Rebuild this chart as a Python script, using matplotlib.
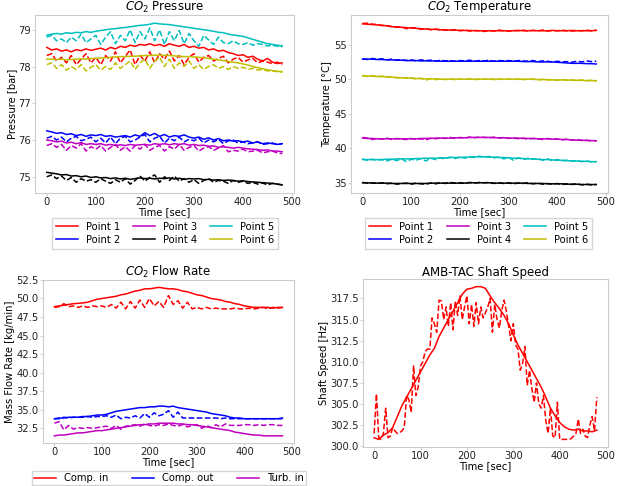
import numpy as np
import matplotlib
matplotlib.use('Agg')
import matplotlib.pyplot as plt

# time axis [sec]
t = np.arange(0, 481, 10)
t_fine = np.arange(0, 481, 5)

point_labels = ['Point 1', 'Point 2', 'Point 3', 'Point 4', 'Point 5', 'Point 6']
point_colors = ['r', 'b', 'm', 'k', 'c', 'y']

# CO2 pressure [bar], model (solid) and measured (dashed)
p1_model = [78.52, 78.45, 78.48, 78.42, 78.45, 78.40, 78.46, 78.43, 78.48, 78.44,
            78.47, 78.50, 78.45, 78.52, 78.48, 78.55, 78.52, 78.58, 78.55, 78.60,
            78.58, 78.62, 78.57, 78.60, 78.55, 78.62, 78.58, 78.55, 78.60, 78.52,
            78.55, 78.50, 78.52, 78.45, 78.48, 78.42, 78.44, 78.38, 78.35, 78.30,
            78.32, 78.25, 78.28, 78.20, 78.15, 78.22, 78.12, 78.08, 78.10]
p1_meas = [78.30, 78.35, 78.15, 78.25, 78.10, 78.30, 78.05, 78.20, 78.35, 78.10,
           78.25, 78.05, 78.30, 78.15, 78.40, 78.10, 78.28, 78.45, 78.05, 78.30,
           78.15, 78.40, 78.10, 78.35, 78.20, 78.42, 78.15, 78.30, 78.05, 78.25,
           78.35, 78.12, 78.25, 78.30, 78.15, 78.22, 78.28, 78.10, 78.20, 78.25,
           78.12, 78.18, 78.22, 78.10, 78.15, 78.12, 78.08, 78.12, 78.05]
p2_model = [76.25, 76.22, 76.18, 76.20, 76.15, 76.17, 76.12, 76.15, 76.10, 76.14,
            76.12, 76.15, 76.10, 76.12, 76.08, 76.10, 76.12, 76.08, 76.14, 76.10,
            76.20, 76.12, 76.18, 76.10, 76.15, 76.08, 76.12, 76.10, 76.14, 76.08,
            76.05, 76.08, 76.02, 76.06, 76.00, 76.04, 75.98, 76.00, 75.97, 75.98,
            75.95, 75.97, 75.92, 75.95, 75.90, 75.92, 75.90, 75.88, 75.90]
p2_meas = [76.05, 76.10, 76.00, 76.08, 75.95, 76.05, 76.10, 75.98, 76.02, 76.08,
           75.95, 76.05, 75.92, 76.08, 75.90, 76.05, 76.10, 75.95, 76.00, 76.08,
           76.15, 75.95, 76.05, 76.10, 75.92, 76.05, 75.98, 76.08, 75.95, 76.02,
           75.98, 76.05, 75.92, 76.00, 75.95, 76.02, 75.90, 75.98, 76.00, 75.92,
           75.95, 75.90, 75.92, 75.95, 75.88, 75.90, 75.92, 75.88, 75.90]
p3_model = [76.00, 75.98, 75.95, 75.97, 75.92, 75.94, 75.90, 75.93, 75.88, 75.90,
            75.88, 75.90, 75.86, 75.88, 75.85, 75.87, 75.85, 75.88, 75.86, 75.87,
            75.88, 75.86, 75.90, 75.88, 75.90, 75.87, 75.90, 75.88, 75.90, 75.86,
            75.88, 75.85, 75.86, 75.83, 75.84, 75.80, 75.82, 75.80, 75.78, 75.80,
            75.78, 75.76, 75.75, 75.74, 75.72, 75.73, 75.70, 75.70, 75.68]
p3_meas = [75.85, 75.90, 75.80, 75.88, 75.72, 75.85, 75.78, 75.90, 75.70, 75.82,
           75.75, 75.85, 75.70, 75.80, 75.88, 75.72, 75.82, 75.70, 75.85, 75.75,
           75.88, 75.72, 75.80, 75.85, 75.70, 75.82, 75.75, 75.88, 75.72, 75.80,
           75.85, 75.70, 75.78, 75.82, 75.72, 75.78, 75.85, 75.68, 75.72, 75.70,
           75.75, 75.68, 75.70, 75.72, 75.65, 75.68, 75.70, 75.65, 75.63]
p4_model = [75.12, 75.10, 75.08, 75.05, 75.06, 75.02, 75.03, 75.00, 75.02, 74.98,
            75.00, 74.97, 74.98, 74.95, 74.97, 74.94, 74.96, 74.93, 74.95, 74.97,
            74.95, 74.96, 74.94, 74.96, 74.95, 74.97, 74.94, 74.96, 74.93, 74.95,
            74.94, 74.95, 74.92, 74.93, 74.91, 74.92, 74.90, 74.91, 74.90, 74.88,
            74.89, 74.87, 74.86, 74.85, 74.84, 74.83, 74.82, 74.80, 74.78]
p4_meas = [75.00, 75.05, 74.95, 75.02, 74.90, 74.98, 74.85, 74.95, 74.88, 74.92,
           74.85, 74.95, 74.88, 74.82, 74.92, 74.85, 74.95, 74.80, 74.90, 75.02,
           74.88, 74.98, 75.05, 74.85, 75.00, 74.90, 75.02, 74.88, 74.95, 74.85,
           74.92, 74.82, 74.90, 74.95, 74.85, 74.90, 74.88, 74.82, 74.90, 74.85,
           74.88, 74.82, 74.85, 74.80, 74.83, 74.78, 74.82, 74.80, 74.78]
p5_model = [78.85, 78.88, 78.90, 78.88, 78.92, 78.90, 78.93, 78.92, 78.95, 78.93,
            78.96, 78.98, 79.00, 79.02, 79.03, 79.05, 79.06, 79.08, 79.10, 79.12,
            79.13, 79.15, 79.18, 79.16, 79.15, 79.14, 79.12, 79.10, 79.08, 79.06,
            79.04, 79.02, 79.00, 78.98, 78.96, 78.93, 78.92, 78.88, 78.86, 78.84,
            78.82, 78.78, 78.74, 78.70, 78.66, 78.62, 78.60, 78.58, 78.56]
p5_meas = [78.80, 78.85, 78.70, 78.75, 78.65, 78.80, 78.70, 78.88, 78.65, 78.75,
           78.85, 78.60, 78.80, 78.95, 78.62, 78.85, 78.70, 79.00, 78.65, 78.95,
           78.75, 79.05, 78.70, 79.00, 78.60, 78.95, 78.70, 78.98, 78.62, 78.90,
           78.70, 78.55, 78.85, 78.72, 78.60, 78.80, 78.65, 78.62, 78.70, 78.62,
           78.60, 78.65, 78.58, 78.62, 78.60, 78.56, 78.58, 78.55, 78.54]
p6_model = [78.20, 78.20, 78.19, 78.20, 78.18, 78.19, 78.20, 78.21, 78.20, 78.22,
            78.22, 78.23, 78.24, 78.25, 78.26, 78.27, 78.27, 78.28, 78.28, 78.29,
            78.30, 78.30, 78.31, 78.31, 78.30, 78.30, 78.29, 78.28, 78.27, 78.27,
            78.26, 78.25, 78.24, 78.22, 78.20, 78.18, 78.16, 78.14, 78.12, 78.10,
            78.07, 78.04, 78.00, 77.97, 77.94, 77.91, 77.89, 77.87, 77.86]
p6_meas = [78.05, 78.10, 77.95, 78.05, 77.90, 78.00, 77.92, 78.05, 77.88, 77.98,
           78.05, 77.90, 78.00, 77.92, 78.10, 77.95, 78.05, 78.15, 77.92, 78.10,
           78.20, 77.95, 78.15, 78.25, 78.00, 78.20, 77.95, 78.10, 78.00, 78.15,
           77.95, 78.05, 77.92, 78.00, 78.05, 77.95, 78.00, 77.92, 78.00, 77.95,
           77.98, 77.92, 77.95, 77.90, 77.92, 77.88, 77.88, 77.86, 77.85]

# CO2 temperature [degC]
T1_model = [58.0, 57.95, 57.9, 57.85, 57.8, 57.7, 57.6, 57.55, 57.5, 57.45,
            57.4, 57.35, 57.3, 57.25, 57.2, 57.2, 57.15, 57.1, 57.1, 57.1,
            57.05, 57.05, 57.05, 57.0, 57.0, 57.0, 57.0, 57.0, 57.0, 57.0,
            57.0, 57.0, 57.05, 57.0, 57.0, 57.05, 57.0, 57.0, 57.0, 57.05,
            57.0, 57.0, 57.0, 57.05, 57.0, 57.0, 57.0, 57.0, 57.05]
T1_meas = [58.05, 58.10, 57.95, 57.90, 57.75, 57.75, 57.60, 57.50, 57.55, 57.30,
           57.45, 57.40, 57.20, 57.30, 57.15, 57.25, 57.10, 57.15, 57.05, 57.15,
           57.00, 57.10, 56.95, 57.05, 57.00, 56.90, 57.05, 56.95, 57.10, 57.00,
           56.95, 57.05, 57.00, 57.10, 56.95, 57.05, 57.00, 57.10, 56.95, 57.05,
           57.00, 57.10, 57.00, 56.95, 57.05, 57.00, 57.10, 57.00, 57.10]
T2_model = [52.9, 52.9, 52.9, 52.85, 52.85, 52.8, 52.8, 52.75, 52.75, 52.7,
            52.7, 52.7, 52.65, 52.65, 52.65, 52.65, 52.6, 52.6, 52.6, 52.6,
            52.6, 52.6, 52.6, 52.6, 52.6, 52.6, 52.6, 52.6, 52.6, 52.6,
            52.6, 52.6, 52.6, 52.55, 52.55, 52.55, 52.5, 52.5, 52.5, 52.5,
            52.45, 52.4, 52.35, 52.3, 52.3, 52.3, 52.25, 52.25, 52.2]
T2_meas = [52.95, 52.85, 53.0, 52.9, 52.95, 52.8, 52.9, 52.75, 52.85, 52.7,
           52.8, 52.65, 52.8, 52.7, 52.75, 52.6, 52.75, 52.65, 52.7, 52.6,
           52.7, 52.65, 52.75, 52.6, 52.7, 52.65, 52.75, 52.6, 52.7, 52.65,
           52.7, 52.6, 52.7, 52.65, 52.6, 52.7, 52.55, 52.65, 52.6, 52.5,
           52.6, 52.5, 52.55, 52.45, 52.6, 52.5, 52.65, 52.55, 52.6]
T3_model = [41.5, 41.45, 41.45, 41.4, 41.4, 41.4, 41.4, 41.4, 41.4, 41.4,
            41.4, 41.4, 41.45, 41.45, 41.45, 41.5, 41.5, 41.5, 41.5, 41.55,
            41.55, 41.55, 41.6, 41.6, 41.6, 41.6, 41.6, 41.55, 41.55, 41.55,
            41.5, 41.5, 41.5, 41.45, 41.45, 41.45, 41.4, 41.4, 41.4, 41.35,
            41.35, 41.3, 41.3, 41.25, 41.2, 41.2, 41.15, 41.15, 41.1]
T3_meas = [41.6, 41.5, 41.3, 41.45, 41.35, 41.5, 41.3, 41.45, 41.35, 41.3,
           41.45, 41.3, 41.4, 41.25, 41.5, 41.4, 41.55, 41.45, 41.6, 41.45,
           41.6, 41.5, 41.65, 41.55, 41.65, 41.6, 41.55, 41.65, 41.5, 41.6,
           41.45, 41.55, 41.4, 41.5, 41.35, 41.45, 41.4, 41.3, 41.45, 41.3,
           41.4, 41.25, 41.35, 41.2, 41.3, 41.15, 41.2, 41.1, 41.15]
T4_model = [35.05, 35.05, 35.0, 35.0, 35.0, 35.0, 34.95, 34.95, 34.95, 34.95,
            34.95, 34.95, 34.95, 34.95, 35.0, 35.0, 35.0, 35.0, 35.0, 35.0,
            35.0, 35.0, 35.05, 35.05, 35.05, 35.05, 35.05, 35.0, 35.0, 35.0,
            35.0, 35.0, 35.0, 35.0, 34.95, 34.95, 34.95, 34.95, 34.9, 34.9,
            34.9, 34.9, 34.85, 34.85, 34.85, 34.8, 34.8, 34.8, 34.8]
T4_meas = [35.1, 35.0, 35.05, 34.95, 35.05, 34.9, 35.0, 34.85, 34.95, 35.0,
           34.85, 35.0, 34.9, 34.85, 35.0, 34.9, 35.05, 34.95, 35.1, 35.0,
           35.05, 34.95, 35.1, 35.0, 35.1, 35.05, 35.1, 34.95, 35.05, 34.95,
           35.05, 34.9, 35.0, 34.95, 35.05, 34.9, 35.0, 34.85, 34.95, 34.85,
           34.95, 34.8, 34.9, 34.8, 34.9, 34.75, 34.85, 34.75, 34.8]
T5_model = [38.4, 38.4, 38.4, 38.4, 38.4, 38.45, 38.45, 38.5, 38.5, 38.5,
            38.5, 38.55, 38.55, 38.6, 38.6, 38.6, 38.65, 38.65, 38.7, 38.7,
            38.7, 38.75, 38.75, 38.8, 38.8, 38.8, 38.75, 38.75, 38.7, 38.7,
            38.65, 38.6, 38.6, 38.55, 38.5, 38.5, 38.45, 38.4, 38.4, 38.35,
            38.3, 38.3, 38.25, 38.2, 38.2, 38.15, 38.15, 38.1, 38.1]
T5_meas = [38.5, 38.3, 38.45, 38.3, 38.4, 38.2, 38.45, 38.25, 38.5, 38.1,
           38.45, 38.3, 38.55, 38.2, 38.6, 38.4, 38.65, 38.5, 38.75, 38.55,
           38.8, 38.6, 38.85, 38.7, 38.9, 38.75, 38.85, 38.65, 38.8, 38.5,
           38.7, 38.3, 38.65, 38.4, 38.6, 38.45, 38.55, 38.3, 38.5, 38.25,
           38.4, 38.2, 38.3, 38.15, 38.25, 38.1, 38.2, 38.05, 38.1]
T6_model = [50.5, 50.45, 50.45, 50.4, 50.4, 50.35, 50.3, 50.25, 50.2, 50.2,
            50.15, 50.1, 50.1, 50.05, 50.05, 50.05, 50.0, 50.0, 50.0, 50.0,
            50.0, 50.0, 50.0, 50.0, 50.0, 50.0, 50.0, 50.0, 50.0, 50.0,
            50.0, 50.0, 50.0, 50.0, 50.0, 50.0, 49.95, 49.95, 49.95, 49.9,
            49.9, 49.9, 49.9, 49.85, 49.85, 49.85, 49.8, 49.8, 49.8]
T6_meas = [50.55, 50.4, 50.5, 50.35, 50.45, 50.3, 50.35, 50.2, 50.25, 50.15,
           50.2, 50.05, 50.15, 49.85, 50.1, 49.95, 50.05, 49.95, 50.05, 49.95,
           50.05, 49.95, 50.1, 49.95, 50.05, 50.0, 50.1, 49.95, 50.05, 49.95,
           50.05, 49.95, 50.05, 49.95, 50.0, 50.05, 49.9, 50.0, 49.9, 49.95,
           49.85, 49.95, 49.85, 49.9, 49.8, 49.9, 49.8, 49.85, 49.75]

# CO2 mass flow rate [kg/min]
flow_labels = ['Comp. in', 'Comp. out', 'Turb. in']
flow_colors = ['r', 'b', 'm']
comp_in_model = [48.9, 49.0, 49.1, 49.2, 49.3, 49.35, 49.4, 49.5, 49.7, 49.9,
                 50.0, 50.1, 50.2, 50.3, 50.5, 50.6, 50.8, 51.0, 51.1, 51.3,
                 51.3, 51.4, 51.5, 51.4, 51.3, 51.3, 51.2, 51.0, 50.9, 50.7,
                 50.5, 50.4, 50.2, 50.0, 49.9, 49.8, 49.6, 49.5, 49.3, 49.2,
                 49.0, 48.9, 48.8, 48.8, 48.8, 48.8, 48.7, 48.8, 48.8]
comp_in_meas = [48.8, 48.9, 49.3, 48.9, 49.0, 48.8, 49.0, 48.8, 49.0, 48.9,
                49.0, 48.8, 49.2, 48.7, 49.5, 48.6, 49.6, 48.7, 49.8, 48.8,
                50.0, 49.0, 49.6, 48.8, 50.4, 49.2, 49.7, 48.7, 49.5, 48.6,
                48.8, 48.6, 48.8, 48.6, 48.7, 48.6, 48.6, 48.6, 48.7, 48.6,
                48.6, 48.7, 48.6, 48.7, 48.8, 48.6, 48.8, 48.7, 48.8]
comp_out_model = [33.8, 33.9, 33.9, 34.0, 34.0, 34.0, 34.1, 34.1, 34.2, 34.3,
                  34.3, 34.4, 34.6, 34.8, 34.9, 35.0, 35.1, 35.2, 35.3, 35.3,
                  35.4, 35.4, 35.5, 35.5, 35.4, 35.5, 35.3, 35.2, 35.1, 35.0,
                  34.9, 34.8, 34.7, 34.5, 34.4, 34.3, 34.2, 34.0, 33.9, 33.9,
                  33.8, 33.8, 33.8, 33.8, 33.8, 33.8, 33.8, 33.8, 33.9]
comp_out_meas = [33.8, 33.8, 34.0, 33.9, 34.0, 34.0, 34.0, 34.1, 34.0, 34.1,
                 34.1, 34.2, 34.0, 34.3, 33.8, 34.0, 33.9, 34.2, 33.9, 34.5,
                 34.0, 34.6, 34.2, 34.4, 34.9, 34.0, 34.7, 33.9, 33.9, 33.9,
                 33.9, 33.9, 33.9, 33.9, 33.9, 33.8, 33.9, 33.8, 33.8, 33.8,
                 33.8, 33.8, 33.8, 33.8, 33.8, 33.8, 33.8, 33.8, 33.8]
turb_in_model = [31.5, 31.6, 31.6, 31.7, 31.8, 31.9, 31.9, 32.0, 32.1, 32.2,
                 32.2, 32.3, 32.4, 32.5, 32.6, 32.7, 32.8, 32.9, 33.0, 33.0,
                 33.1, 33.1, 33.2, 33.2, 33.2, 33.2, 33.1, 33.1, 33.0, 33.0,
                 32.9, 32.8, 32.7, 32.6, 32.5, 32.4, 32.3, 32.2, 32.0, 31.9,
                 31.8, 31.7, 31.6, 31.6, 31.5, 31.5, 31.5, 31.5, 31.5]
turb_in_meas = [33.2, 33.4, 32.3, 32.9, 32.4, 32.6, 32.5, 32.6, 32.5, 32.6,
                32.7, 32.8, 32.5, 32.9, 32.4, 32.8, 32.9, 33.0, 32.8, 33.1,
                32.9, 32.8, 33.0, 32.9, 33.1, 32.9, 32.8, 33.0, 32.7, 32.9,
                33.0, 32.5, 32.9, 32.6, 33.0, 32.7, 33.1, 32.9, 32.9, 32.9,
                33.0, 33.0, 32.9, 33.0, 32.9, 33.0, 33.0, 32.9, 32.9]

# AMB-TAC shaft speed [Hz]
speed_model = [301.0, 300.8, 301.3, 301.6, 302.2, 303.5, 304.8, 305.8, 306.8, 307.8,
               308.8, 309.8, 310.8, 311.6, 313.0, 314.0, 315.0, 316.0, 317.0, 318.0,
               318.6, 318.7, 318.9, 318.9, 318.7, 317.8, 317.0, 316.3, 315.5, 314.5,
               313.2, 312.0, 311.0, 310.0, 309.0, 308.0, 307.0, 305.8, 304.5, 303.6,
               302.8, 302.3, 302.0, 301.9, 302.0, 301.8, 301.8, 301.7, 301.9]
speed_meas = [301.5, 306.2, 301.0, 300.8, 301.5, 304.5, 301.0, 301.2, 302.2, 301.8,
              301.5, 301.6, 301.8, 302.2, 306.0, 305.5, 304.0, 309.5, 306.0, 307.0,
              309.5, 310.0, 311.2, 311.5, 311.5, 315.2, 314.5, 313.5, 317.3, 317.2,
              315.0, 316.5, 314.2, 317.0, 313.8, 317.2, 315.5, 317.8, 315.0, 316.5,
              317.8, 314.5, 316.8, 314.2, 317.0, 314.5, 316.5, 315.2, 315.8, 316.5,
              317.5, 313.5, 316.8, 315.0, 314.0, 316.0, 317.3, 316.0, 314.2, 312.5,
              314.5, 312.0, 311.5, 309.0, 309.8, 311.8, 307.2, 309.0, 306.8, 305.2,
              307.5, 305.0, 304.5, 306.0, 303.0, 301.5, 304.5, 301.2, 301.0, 305.2,
              300.8, 300.8, 300.8, 300.8, 300.8, 300.9, 301.2, 301.5, 303.2, 301.5,
              302.0, 301.2, 301.0, 302.5, 303.5, 301.8, 305.8]

pressure_model = [p1_model, p2_model, p3_model, p4_model, p5_model, p6_model]
pressure_meas = [p1_meas, p2_meas, p3_meas, p4_meas, p5_meas, p6_meas]
temp_model = [T1_model, T2_model, T3_model, T4_model, T5_model, T6_model]
temp_meas = [T1_meas, T2_meas, T3_meas, T4_meas, T5_meas, T6_meas]
flow_model = [comp_in_model, comp_out_model, turb_in_model]
flow_meas = [comp_in_meas, comp_out_meas, turb_in_meas]

plt.rcParams['font.family'] = 'DejaVu Sans'
plt.rcParams['mathtext.fontset'] = 'dejavusans'

fig = plt.figure(figsize=(6.21, 4.86), dpi=100)
fs = 7.2
lw = 1.1


def style(ax, title, ylabel):
    ax.set_title(title, fontsize=fs + 1.3, pad=2)
    ax.set_ylabel(ylabel, fontsize=fs, labelpad=1)
    ax.set_xlabel('Time [sec]', fontsize=fs, labelpad=0)
    ax.set_xticks([0, 100, 200, 300, 400, 500])
    ax.tick_params(labelsize=fs, length=2, width=0.6, color='#cccccc', pad=1, labelcolor='#222222')
    for s in ax.spines.values():
        s.set_color('#cccccc')
        s.set_linewidth(0.8)


leg_kw = dict(fontsize=fs, frameon=True, edgecolor='#cccccc', fancybox=False,
              handlelength=2.2, labelspacing=0.3)

ax1 = fig.add_axes([0.0564, 0.603, 0.417, 0.366])
for m, e, c, lab in zip(pressure_model, pressure_meas, point_colors, point_labels):
    ax1.plot(t, m, color=c, lw=lw, label=lab)
    ax1.plot(t, e, color=c, lw=lw, ls='--')
style(ax1, r'$CO_2$ Pressure', 'Pressure [bar]')
ax1.set_yticks([75, 76, 77, 78, 79])
ax1.legend(loc='upper center', bbox_to_anchor=(0.2657, 0.562), bbox_transform=fig.transFigure,
           ncol=3, columnspacing=1.3, borderpad=0.4, **leg_kw)

ax2 = fig.add_axes([0.565, 0.603, 0.414, 0.366])
for m, e, c, lab in zip(temp_model, temp_meas, point_colors, point_labels):
    ax2.plot(t, m, color=c, lw=lw, label=lab)
    ax2.plot(t, e, color=c, lw=lw, ls='--')
style(ax2, r'$CO_2$ Temperature', 'Temperature [°C]')
ax2.set_yticks([35, 40, 45, 50, 55])
ax2.legend(loc='upper center', bbox_to_anchor=(0.771, 0.562), bbox_transform=fig.transFigure,
           ncol=3, columnspacing=1.3, borderpad=0.4, **leg_kw)

ax3 = fig.add_axes([0.0692, 0.088, 0.404, 0.336])
for m, e, c, lab in zip(flow_model, flow_meas, flow_colors, flow_labels):
    ax3.plot(t, m, color=c, lw=lw, label=lab)
    ax3.plot(t, e, color=c, lw=lw, ls='--')
style(ax3, r'$CO_2$ Flow Rate', 'Mass Flow Rate [kg/min]')
ax3.set_yticks(np.arange(32.5, 52.6, 2.5))
ax3.legend(loc='upper center', bbox_to_anchor=(0.272, 0.041), bbox_transform=fig.transFigure,
           ncol=3, columnspacing=2.4, borderpad=0.2, **leg_kw)

ax4 = fig.add_axes([0.5845, 0.0802, 0.3945, 0.3457])
ax4.plot(t, speed_model, color='r', lw=lw)
ax4.plot(t_fine, speed_meas, color='r', lw=lw, ls='--')
style(ax4, 'AMB-TAC Shaft Speed', 'Shaft Speed [Hz]')
ax4.set_yticks(np.arange(300, 317.6, 2.5))

fig.savefig('out.png', dpi=100)
